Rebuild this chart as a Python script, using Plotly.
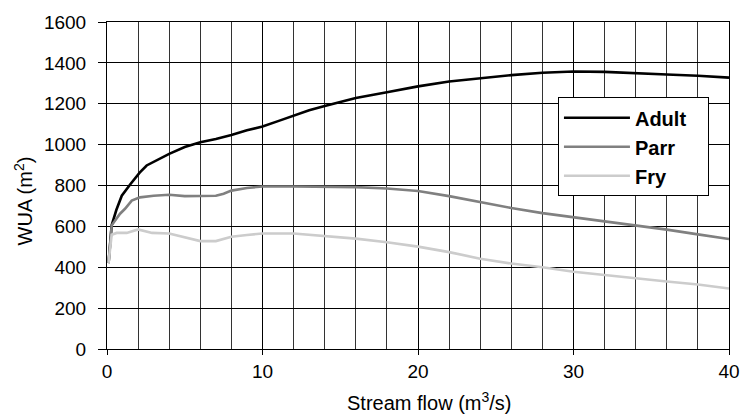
import plotly.graph_objects as go

# Data
adult_x = [0.1, 0.3, 0.6, 0.95, 1.5, 2.1, 2.55, 3, 4, 5, 6, 7, 7.7, 8, 9, 10, 11, 12, 13, 14,
           15, 16, 18, 20, 22, 24, 26, 28, 30, 32, 34, 36, 38, 40]
adult_y = [420, 605, 680, 750, 806, 863, 898, 915, 955, 988, 1012, 1028, 1040, 1047, 1070, 1089,
           1115, 1140, 1168, 1189, 1208, 1228, 1256, 1285, 1309, 1325, 1340, 1352, 1358, 1356,
           1348, 1343, 1337, 1328]

parr_x = [0.1, 0.3, 0.84, 1.16, 1.59, 2.12, 3, 4, 5, 6, 7, 7.5, 8, 9, 10, 12, 14, 16, 18, 20,
          22, 24, 26, 28, 30, 32, 34, 36, 38, 40]
parr_y = [420, 605, 662, 686, 726, 742, 750, 755, 748, 748, 750, 760, 775, 788, 795, 795, 795,
          792, 785, 773, 748, 718, 690, 665, 645, 625, 605, 584, 561, 538]

fry_x = [0.1, 0.3, 0.62, 1.27, 2.0, 2.9, 4, 5, 6, 7, 8, 9, 10, 12, 14, 16, 18, 20, 22, 24,
         26, 28, 30, 32, 34, 36, 38, 40]
fry_y = [421, 559, 568, 568, 585, 568, 565, 545, 528, 528, 549, 558, 565, 565, 553, 540, 522,
         501, 474, 442, 418, 400, 378, 361, 345, 330, 316, 296]

series_names = ["Adult", "Parr", "Fry"]
series_colors = ["#000000", "#808080", "#cccccc"]
x_title = "Stream flow (m<sup>3</sup>/s)"
y_title = "WUA (m<sup>2</sup>)"

FONT = "Liberation Sans, Arial, sans-serif"
PAD = "\u00a0" * 3  # extra right padding inside the legend box

fig = go.Figure()
for name, xs, ys, col in zip(series_names, [adult_x, parr_x, fry_x],
                             [adult_y, parr_y, fry_y], series_colors):
    fig.add_trace(go.Scatter(x=xs, y=ys, mode="lines", name=name + PAD,
                             line=dict(color=col, width=2.6)))

fig.update_layout(
    width=752, height=418,
    margin=dict(l=107, r=23, t=17, b=69),
    paper_bgcolor="white", plot_bgcolor="white",
    font=dict(family=FONT, size=19, color="black"),
    legend=dict(x=0.725, y=0.77, xanchor="left", yanchor="top",
                bordercolor="black", borderwidth=1, bgcolor="white",
                font=dict(family=FONT, size=20, color="black", weight="bold"),
                itemwidth=66),
    showlegend=True,
    annotations=[
        dict(text=x_title, xref="paper", yref="paper", x=0.5, y=0,
             xanchor="center", yanchor="middle", xshift=11, yshift=-52,
             showarrow=False, font=dict(family=FONT, size=20, color="black")),
        dict(text=y_title, xref="paper", yref="paper", x=0, y=0.5,
             xanchor="center", yanchor="middle", xshift=-84, yshift=-16,
             textangle=-90, showarrow=False,
             font=dict(family=FONT, size=20, color="black")),
    ],
)

fig.update_xaxes(
    range=[0, 40], tick0=0, dtick=10,
    ticks="outside", ticklen=5, tickcolor="black",
    showline=True, linecolor="black", linewidth=1, mirror=True,
    showgrid=True, gridcolor="black", gridwidth=1,
    minor=dict(dtick=2, showgrid=True, gridcolor="#333333", gridwidth=1),
    zeroline=False,
    tickfont=dict(size=19),
)
fig.update_yaxes(
    range=[0, 1600], tick0=0, dtick=200,
    ticks="outside", ticklen=8, tickcolor="black",
    ticklabelstandoff=8,
    showline=True, linecolor="black", linewidth=1, mirror=True,
    showgrid=True, gridcolor="black", gridwidth=1,
    zeroline=False,
    tickfont=dict(size=19),
)

fig.write_html("out.html")
